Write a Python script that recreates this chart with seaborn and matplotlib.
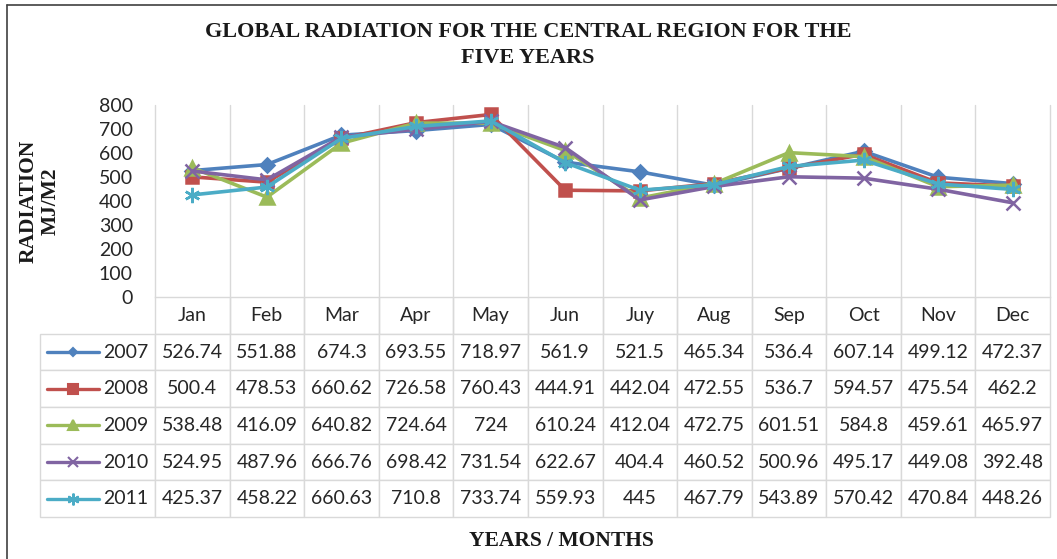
import pandas as pd
import matplotlib.pyplot as plt
import seaborn as sns
from matplotlib.lines import Line2D

months = ["Jan", "Feb", "Mar", "Apr", "May", "Jun", "Juy", "Aug", "Sep", "Oct", "Nov", "Dec"]
years = ["2007", "2008", "2009", "2010", "2011"]
r2007 = [526.74, 551.88, 674.3, 693.55, 718.97, 561.9, 521.5, 465.34, 536.4, 607.14, 499.12, 472.37]
r2008 = [500.4, 478.53, 660.62, 726.58, 760.43, 444.91, 442.04, 472.55, 536.7, 594.57, 475.54, 462.2]
r2009 = [538.48, 416.09, 640.82, 724.64, 724, 610.24, 412.04, 472.75, 601.51, 584.8, 459.61, 465.97]
r2010 = [524.95, 487.96, 666.76, 698.42, 731.54, 622.67, 404.4, 460.52, 500.96, 495.17, 449.08, 392.48]
r2011 = [425.37, 458.22, 660.63, 710.8, 733.74, 559.93, 445, 467.79, 543.89, 570.42, 470.84, 448.26]
series = [r2007, r2008, r2009, r2010, r2011]

colors = {"2007": "#4F81BD", "2008": "#C0504D", "2009": "#9BBB59", "2010": "#8064A2", "2011": "#4BACC6"}
markers = {"2007": "D", "2008": "s", "2009": "^", "2010": "x", "2011": (6, 2, 0)}
msizes = {"2007": 7, "2008": 9, "2009": 10, "2010": 10, "2011": 11}

# long format for seaborn
rows = []
for yr, vals in zip(years, series):
    for i, v in enumerate(vals):
        rows.append({"year": yr, "pos": i, "month": months[i], "value": v})
df = pd.DataFrame(rows)

sns.set_theme(style="white")
plt.rcParams["font.family"] = ["Lato", "DejaVu Sans"]

W, H = 1057, 559
fig = plt.figure(figsize=(W / 100, H / 100), dpi=100)

# plot area in pixel terms
px0, py_top, py_bot, px1 = 155, 105, 297, 1050
ax = fig.add_axes([px0 / W, 1 - py_bot / H, (px1 - px0) / W, (py_bot - py_top) / H])

for yr in years:
    sns.lineplot(data=df[df["year"] == yr], x="pos", y="value", color=colors[yr],
                 marker=markers[yr], markersize=msizes[yr], linewidth=2.6,
                 mec=colors[yr], mfc=colors[yr], mew=1.8, ax=ax)

grid_c = "#D9D9D9"
ax.set_xlim(-0.5, len(months) - 0.5)
ax.set_ylim(0, 800)
ax.set_yticks(range(0, 801, 100))
ax.set_xticks([])
ax.set_xlabel("")
ax.set_ylabel("")
for b in range(len(months) + 1):
    ax.axvline(b - 0.5, color=grid_c, lw=1, zorder=0, clip_on=False)
for s in ["top", "right", "left"]:
    ax.spines[s].set_visible(False)
ax.spines["bottom"].set_color(grid_c)
ax.spines["bottom"].set_linewidth(1)
ax.tick_params(axis="y", length=0, pad=16, labelsize=14, labelcolor="#262626")

# data table below the plot (Excel style)
tx0, tx1, ty_bot = 40, 1050, 517
ax_w = px1 - px0
ax_h = py_bot - py_top
n_rows = len(years) + 1
label_w = px0 - tx0
col_w = ax_w / len(months)
cell_text = [[""] + months]
for yr, vals in zip(years, series):
    cell_text.append([yr] + ["{:g}".format(v) for v in vals])
tot_w = tx1 - tx0
tbl = ax.table(cellText=cell_text, cellLoc="center",
               colWidths=[label_w / tot_w] + [col_w / tot_w] * len(months),
               bbox=[(tx0 - px0) / ax_w, -(ty_bot - py_bot) / ax_h,
                     tot_w / ax_w, (ty_bot - py_bot) / ax_h])
tbl.auto_set_font_size(False)
tbl.set_fontsize(14)
for (r, c), cell in tbl.get_celld().items():
    cell.set_edgecolor(grid_c)
    cell.set_linewidth(1)
    cell.get_text().set_color("#262626")
    if r == 0 and c == 0:
        cell.visible_edges = ""
    elif r == 0:
        cell.visible_edges = "BLR"
    if c == 0 and r > 0:
        cell.get_text().set_ha("right")
        cell._loc = "right"
        cell.PAD = 0.06

# legend keys inside the row label cells
row_h = (ty_bot - py_bot) / n_rows
key_x0 = (47 - px0) / ax_w
key_x1 = (99 - px0) / ax_w
for i, yr in enumerate(years):
    yk = -(row_h * (i + 1.5)) / ax_h
    ax.plot([key_x0, key_x1], [yk, yk], transform=ax.transAxes, clip_on=False,
            color=colors[yr], lw=2.4, solid_capstyle="round")
    ax.plot([(key_x0 + key_x1) / 2], [yk], transform=ax.transAxes, clip_on=False,
            marker=markers[yr], ms=msizes[yr] - 2.5, color=colors[yr], mec=colors[yr], mew=1.5)

serif = ["Liberation Serif", "DejaVu Serif"]
fig.text(528 / W, 1 - 32 / H, "GLOBAL RADIATION FOR THE CENTRAL REGION FOR THE",
         ha="center", va="center", fontsize=16, fontweight="bold", family=serif, color="#1a1a1a")
fig.text(528 / W, 1 - 58 / H, "FIVE YEARS",
         ha="center", va="center", fontsize=16, fontweight="bold", family=serif, color="#1a1a1a")
fig.text(40 / W, 1 - 201 / H, "RADIATION\nMJ/M2", rotation=90, ha="center", va="center",
         multialignment="center", linespacing=1.15, fontsize=15.5, fontweight="bold",
         family=serif, color="#1a1a1a")
fig.text(561 / W, 1 - 541 / H, "YEARS / MONTHS", ha="center", va="center",
         fontsize=15.5, fontweight="bold", family=serif, color="#1a1a1a")

# outer frame (top and left edges visible in the original)
fig.add_artist(Line2D([7 / W, 1], [1 - 5 / H, 1 - 5 / H], color="#404040", lw=1.2,
                      transform=fig.transFigure))
fig.add_artist(Line2D([7 / W, 7 / W], [0, 1 - 5 / H], color="#404040", lw=1.2,
                      transform=fig.transFigure))

fig.savefig("out.png", dpi=100)
